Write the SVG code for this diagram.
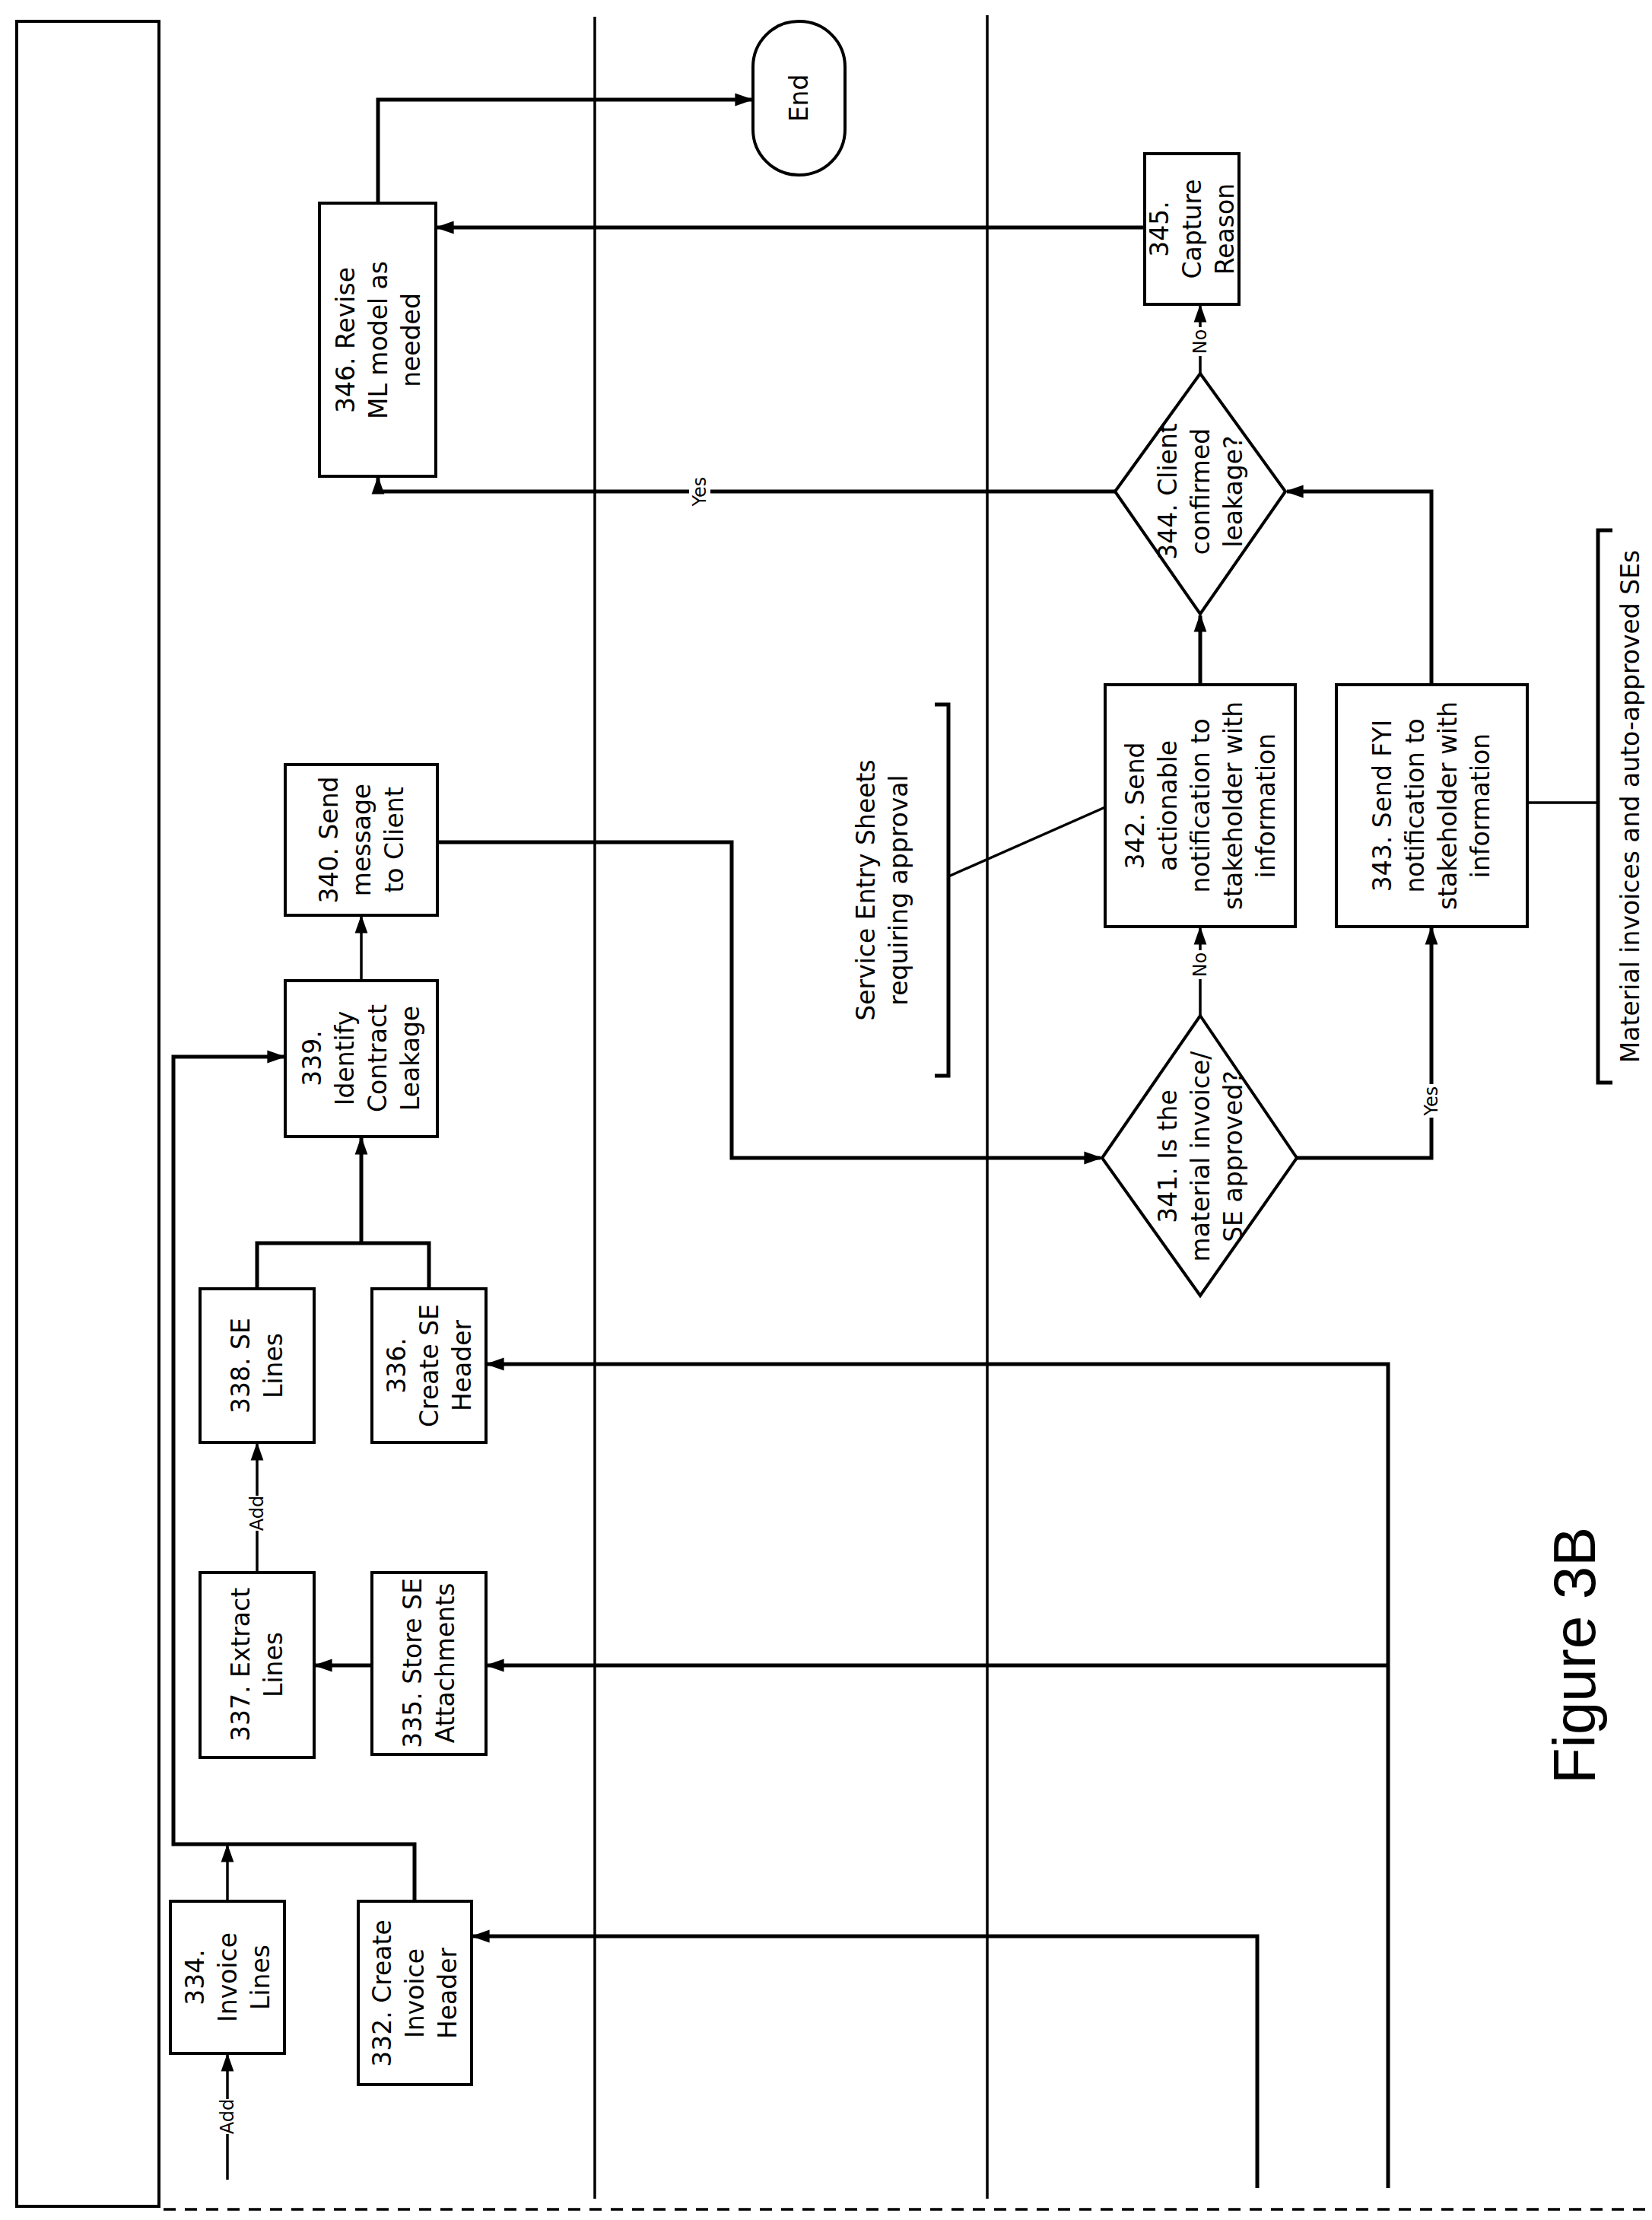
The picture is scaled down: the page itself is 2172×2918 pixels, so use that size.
<svg xmlns="http://www.w3.org/2000/svg" width="2172" height="2918" viewBox="0 0 2172 2918">
<style>
.b{fill:#fff;stroke:#000;stroke-width:4}
.t{font-family:"DejaVu Sans",sans-serif;font-size:33px;text-anchor:middle;fill:#000}
.s{font-family:"DejaVu Sans",sans-serif;font-size:24px;text-anchor:middle;fill:#000}
.c{fill:none;stroke:#000;stroke-width:5}
.l{fill:none;stroke:#000;stroke-width:3.5}
</style>
<defs><marker id="a" viewBox="0 0 10 10" refX="9" refY="5" markerWidth="24" markerHeight="24" orient="auto" markerUnits="userSpaceOnUse"><path d="M0,1.5 L10,5 L0,8.5 z" fill="#000"/></marker></defs>
<rect width="2172" height="2918" fill="#fff"/>
<g id="lanes">
<rect x="22" y="28" width="187" height="2872" class="b"/>
<line x1="782" y1="22" x2="782" y2="2890" class="l"/>
<line x1="1298" y1="20" x2="1298" y2="2890" class="l"/>
<line x1="215" y1="2904" x2="2165" y2="2904" class="l" stroke-dasharray="16,12"/>
</g>
<g id="connectors">
<polyline points="497,267 497,131 988,131" class="c" marker-end="url(#a)"/>
<line x1="1505" y1="299" x2="575" y2="299" class="c" marker-end="url(#a)"/>
<line x1="1578" y1="491" x2="1578" y2="402" class="l" marker-end="url(#a)"/>
<polyline points="1466,646 497,646 497,628" class="c" marker-end="url(#a)"/>
<line x1="1578" y1="900" x2="1578" y2="809" class="c" marker-end="url(#a)"/>
<polyline points="1882,900 1882,646 1692,646" class="c" marker-end="url(#a)"/>
<line x1="1578" y1="1335" x2="1578" y2="1220" class="l" marker-end="url(#a)"/>
<polyline points="1705,1522 1882,1522 1882,1220" class="c" marker-end="url(#a)"/>
<polyline points="575,1107 962,1107 962,1522 1447,1522" class="c" marker-end="url(#a)"/>
<line x1="475" y1="1289" x2="475" y2="1205" class="l" marker-end="url(#a)"/>
<polyline points="338,1694 338,1634 564,1634 564,1694" class="c"/>
<line x1="475" y1="1634" x2="475" y2="1496" class="c" marker-end="url(#a)"/>
<line x1="338" y1="2067" x2="338" y2="1898" class="l" marker-end="url(#a)"/>
<line x1="489" y1="2189" x2="415" y2="2189" class="c" marker-end="url(#a)"/>
<line x1="299" y1="2865" x2="299" y2="2701" class="l" marker-end="url(#a)"/>
<line x1="299" y1="2499" x2="299" y2="2426" class="l" marker-end="url(#a)"/>
<polyline points="545,2499 545,2424 228,2424 228,1389 373,1389" class="c" marker-end="url(#a)"/>
<polyline points="1653,2876 1653,2545 622,2545" class="c" marker-end="url(#a)"/>
<polyline points="1825,2876 1825,1793 641,1793" class="c" marker-end="url(#a)"/>
<line x1="1825" y1="2189" x2="641" y2="2189" class="c" marker-end="url(#a)"/>
<line x1="1247" y1="1152" x2="1453" y2="1061" class="l"/>
<polyline points="1229,926 1247,926 1247,1414 1229,1414" class="c"/>
<line x1="2008" y1="1055" x2="2101" y2="1055" class="l"/>
<polyline points="2120,697 2101,697 2101,1423 2120,1423" class="c"/>
<rect x="1564" y="430" width="28" height="38" fill="#fff"/>
<text class="s" transform="translate(1578,449) rotate(-90)" y="8">No</text>
<rect x="1564" y="1249" width="28" height="38" fill="#fff"/>
<text class="s" transform="translate(1578,1268) rotate(-90)" y="8">No</text>
<rect x="906" y="625" width="28" height="44" fill="#fff"/>
<text class="s" transform="translate(920,646) rotate(-90)" y="8">Yes</text>
<rect x="1868" y="1425" width="28" height="44" fill="#fff"/>
<text class="s" transform="translate(1882,1447) rotate(-90)" y="8">Yes</text>
<rect x="324" y="1966" width="28" height="46" fill="#fff"/>
<text class="s" transform="translate(338,1989) rotate(-90)" y="8">Add</text>
<rect x="285" y="2759" width="28" height="46" fill="#fff"/>
<text class="s" transform="translate(299,2782) rotate(-90)" y="8">Add</text>
</g>
<g id="end"><rect x="990" y="28" width="121" height="202" rx="60" ry="60" class="b"/><text class="t" transform="translate(1050,129) rotate(-90)" y="12">End</text></g>
<g id="n346"><rect x="420" y="267" width="153" height="359" class="b"/><text class="t" transform="translate(497,447) rotate(-90)"><tspan x="0" y="-31">346. Revise</tspan><tspan x="0" y="12">ML model as</tspan><tspan x="0" y="55">needed</tspan></text></g>
<g id="n345"><rect x="1505" y="202" width="124" height="198" class="b"/><text class="t" transform="translate(1567,301) rotate(-90)"><tspan x="0" y="-31">345.</tspan><tspan x="0" y="12">Capture</tspan><tspan x="0" y="55">Reason</tspan></text></g>
<g id="n344"><polygon points="1578,491 1690,646 1578,807 1466,646" class="b"/><text class="t" transform="translate(1578,646) rotate(-90)"><tspan x="0" y="-31">344. Client</tspan><tspan x="0" y="12">confirmed</tspan><tspan x="0" y="55">leakage?</tspan></text></g>
<g id="n342"><rect x="1453" y="900" width="250" height="318" class="b"/><text class="t" transform="translate(1578,1059) rotate(-90)"><tspan x="0" y="-74">342. Send</tspan><tspan x="0" y="-31">actionable</tspan><tspan x="0" y="12">notification to</tspan><tspan x="0" y="55">stakeholder with</tspan><tspan x="0" y="98">information</tspan></text></g>
<g id="n343"><rect x="1757" y="900" width="251" height="318" class="b"/><text class="t" transform="translate(1882,1059) rotate(-90)"><tspan x="0" y="-53">343. Send FYI</tspan><tspan x="0" y="-10">notification to</tspan><tspan x="0" y="33">stakeholder with</tspan><tspan x="0" y="76">information</tspan></text></g>
<g id="n341"><polygon points="1578,1335 1705,1522 1578,1703 1449,1522" class="b"/><text class="t" transform="translate(1578,1520) rotate(-90)"><tspan x="0" y="-31">341. Is the</tspan><tspan x="0" y="12">material invoice/</tspan><tspan x="0" y="55">SE approved?</tspan></text></g>
<g id="n340"><rect x="375" y="1005" width="200" height="198" class="b"/><text class="t" transform="translate(475,1104) rotate(-90)"><tspan x="0" y="-31">340. Send</tspan><tspan x="0" y="12">message</tspan><tspan x="0" y="55">to Client</tspan></text></g>
<g id="n339"><rect x="375" y="1289" width="200" height="205" class="b"/><text class="t" transform="translate(475,1391) rotate(-90)"><tspan x="0" y="-53">339.</tspan><tspan x="0" y="-10">Identify</tspan><tspan x="0" y="33">Contract</tspan><tspan x="0" y="76">Leakage</tspan></text></g>
<g id="n338"><rect x="263" y="1694" width="150" height="202" class="b"/><text class="t" transform="translate(338,1795) rotate(-90)"><tspan x="0" y="-10">338. SE</tspan><tspan x="0" y="33">Lines</tspan></text></g>
<g id="n336"><rect x="489" y="1694" width="150" height="202" class="b"/><text class="t" transform="translate(564,1795) rotate(-90)"><tspan x="0" y="-31">336.</tspan><tspan x="0" y="12">Create SE</tspan><tspan x="0" y="55">Header</tspan></text></g>
<g id="n337"><rect x="263" y="2067" width="150" height="243" class="b"/><text class="t" transform="translate(338,2188) rotate(-90)"><tspan x="0" y="-10">337. Extract</tspan><tspan x="0" y="33">Lines</tspan></text></g>
<g id="n335"><rect x="489" y="2067" width="150" height="239" class="b"/><text class="t" transform="translate(564,2186) rotate(-90)"><tspan x="0" y="-10">335. Store SE</tspan><tspan x="0" y="33">Attachments</tspan></text></g>
<g id="n334"><rect x="224" y="2499" width="150" height="200" class="b"/><text class="t" transform="translate(299,2599) rotate(-90)"><tspan x="0" y="-31">334.</tspan><tspan x="0" y="12">Invoice</tspan><tspan x="0" y="55">Lines</tspan></text></g>
<g id="n332"><rect x="471" y="2499" width="149" height="241" class="b"/><text class="t" transform="translate(545,2620) rotate(-90)"><tspan x="0" y="-31">332. Create</tspan><tspan x="0" y="12">Invoice</tspan><tspan x="0" y="55">Header</tspan></text></g>
<g id="notes">
<text class="t" transform="translate(1160,1170) rotate(-90)"><tspan x="0" y="-10">Service Entry Sheets</tspan><tspan x="0" y="33">requiring approval</tspan></text>
<text class="t" transform="translate(2143,1060) rotate(-90)" y="12">Material invoices and auto-approved SEs</text>
<text transform="translate(2069,2176) rotate(-90)" y="28" font-family="Liberation Sans, sans-serif" font-size="78" text-anchor="middle">Figure 3B</text>
</g>
</svg>
